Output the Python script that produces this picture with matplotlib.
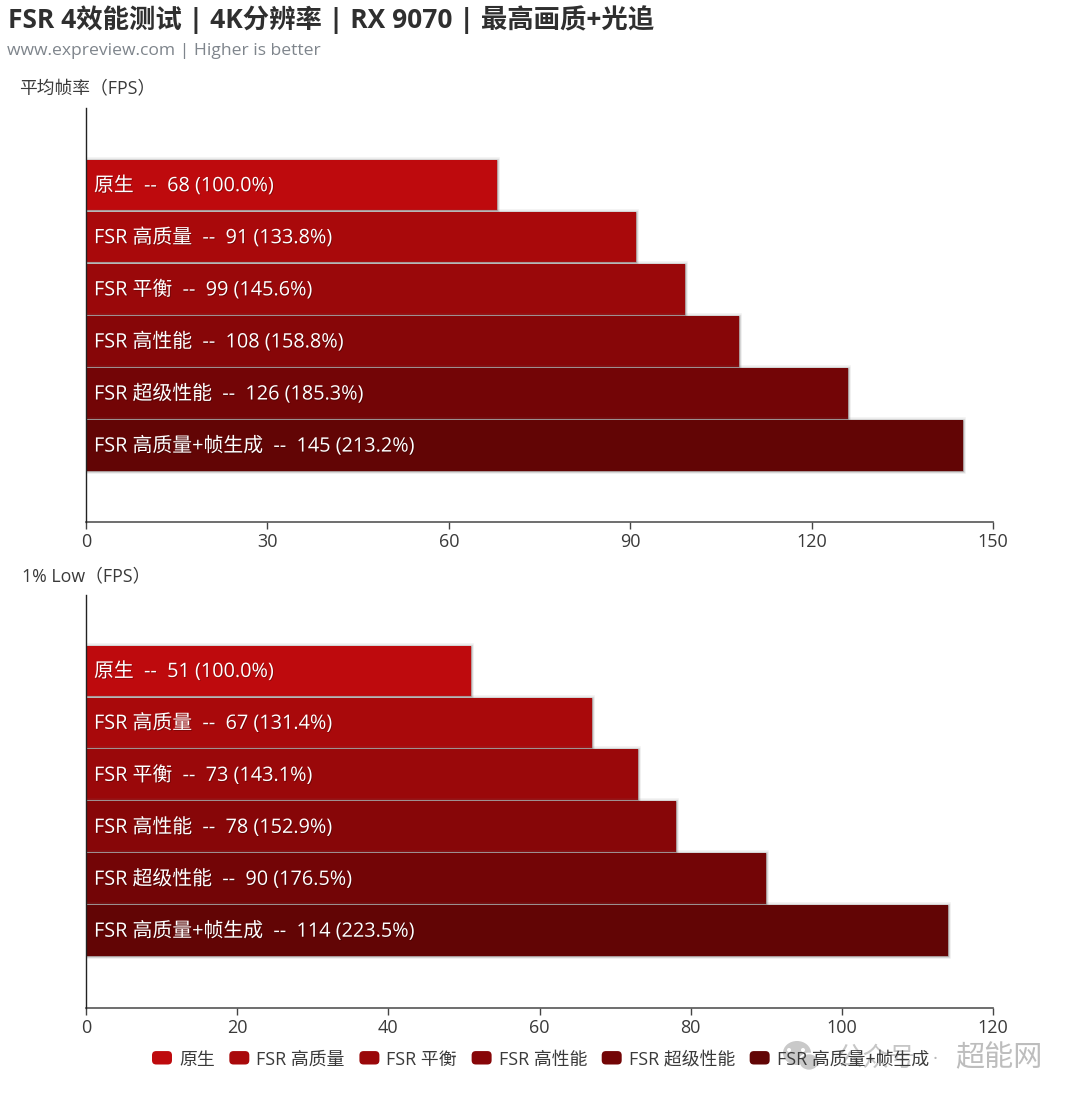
import matplotlib
matplotlib.use("Agg")
import matplotlib.pyplot as plt
import matplotlib.patheffects as pe
from matplotlib.patches import FancyBboxPatch, Patch, Ellipse
from matplotlib.legend_handler import HandlerPatch
from matplotlib.transforms import IdentityTransform

plt.rcParams['font.family'] = ['Open Sans', 'Noto Sans CJK SC', 'DejaVu Sans']

categories = ['原生', 'FSR 高质量', 'FSR 平衡', 'FSR 高性能', 'FSR 超级性能', 'FSR 高质量+帧生成']
avg_fps = [68, 91, 99, 108, 126, 145]
avg_pct = ['100.0%', '133.8%', '145.6%', '158.8%', '185.3%', '213.2%']
low_fps = [51, 67, 73, 78, 90, 114]
low_pct = ['100.0%', '131.4%', '143.1%', '152.9%', '176.5%', '223.5%']
colors = ['#BE0A0D', '#A9090B', '#9A080A', '#870608', '#730506', '#620505']
avg_ticks = [0, 30, 60, 90, 120, 150]
low_ticks = [0, 20, 40, 60, 80, 100, 120]

W, H = 1080, 1101
fig = plt.figure(figsize=(W / 100, H / 100), dpi=100, facecolor='white')


def panel(top, bottom, vals, pcts, ticks, name, name_x, ylo):
    ax = fig.add_axes([86 / W, 1 - bottom / H, (993 - 86) / W, (bottom - top) / H])
    y = list(range(len(categories)))
    bars = ax.barh(y, vals, height=0.972, color=colors, edgecolor='none', zorder=2)
    for b in bars:
        b.set_path_effects([pe.Stroke(linewidth=4.0, foreground='#777777', alpha=0.10),
                            pe.Stroke(linewidth=2.4, foreground='#777777', alpha=0.18),
                            pe.Stroke(linewidth=1.0, foreground='#888888', alpha=0.35),
                            pe.Normal()])
    for i, (c, v, p) in enumerate(zip(categories, vals, pcts)):
        ax.text(8 / 907 * ticks[-1], i + 0.02, f'{c}  --  {v} ({p})', color='white', fontsize=14.3,
                va='center', ha='left', zorder=3,
                path_effects=[pe.withSimplePatchShadow(offset=(0.6, -0.6), shadow_rgbFace='#000000', alpha=0.3)])
    ax.set_xlim(ticks[0], ticks[-1])
    ax.set_ylim(ylo + 7.95, ylo)
    ax.set_yticks([])
    ax.set_xticks(ticks)
    ax.tick_params(axis='x', length=5, width=1, color='#444444', labelsize=13.0, labelcolor='#3A3A3A', pad=3)
    for s in ('top', 'right'):
        ax.spines[s].set_visible(False)
    ax.spines['left'].set_color('#222222')
    ax.spines['left'].set_linewidth(1)
    ax.spines['left'].set_zorder(4)
    ax.spines['bottom'].set_color('#555555')
    ax.spines['bottom'].set_linewidth(1.2)
    fig.text(name_x / W, 1 - (top - 18.5) / H, name, fontsize=12.8, color='#3A3A3A', ha='left', va='center')
    return ax


panel(108, 522, avg_fps, avg_pct, avg_ticks, '平均帧率（FPS）', 19, -1.48)
panel(595, 1008, low_fps, low_pct, low_ticks, '1% Low（FPS）', 22, -1.46)

fig.text(8 / W, 1 - 20 / H, 'FSR 4效能测试 | 4K分辨率 | RX 9070 | 最高画质+光追', fontsize=19.0,
         fontweight='bold', color='#2F2F2F', ha='left', va='center')
fig.text(7 / W, 1 - 51 / H, 'www.expreview.com | Higher is better', fontsize=12.6, color='#7F858C',
         ha='left', va='center')

# watermark (under the legend)
wm = '#C9C9C9'
px = IdentityTransform()
fig.add_artist(Ellipse((797, H - 1053), 28, 24, facecolor=wm, edgecolor='none', transform=px, zorder=1))
fig.add_artist(Ellipse((809, H - 1062), 20, 17, facecolor=wm, edgecolor='white', linewidth=1.2, transform=px, zorder=1))
for ex in (789, 803):
    fig.add_artist(Ellipse((ex, H - 1050), 4, 4, facecolor='white', edgecolor='none', transform=px, zorder=1))
fig.text(837 / W, 1 - 1059 / H, '公众号', fontsize=19, color='#C6C6C6', ha='left', va='center', zorder=1)
fig.text(933 / W, 1 - 1059 / H, '·', fontsize=14, color='#B8B8B8', ha='left', va='center', zorder=1)
fig.text(955 / W, 1 - 1059 / H, '超能网', fontsize=21, color='#BDBDBD', ha='left', va='center', zorder=1)


class RoundHandler(HandlerPatch):
    def create_artists(self, legend, orig, xd, yd, w, h, fontsize, trans):
        p = FancyBboxPatch((xd + 3, yd + 3), w - 6, h - 6, boxstyle='round,pad=3,rounding_size=3',
                           facecolor=orig.get_facecolor(), edgecolor='none', transform=trans)
        return [p]


handles = [Patch(facecolor=c, label=n) for c, n in zip(colors, categories)]
leg = fig.legend(handles=handles, ncol=6, loc='center left', bbox_to_anchor=(152 / W, 1 - 1060 / H),
                 frameon=False, fontsize=12.85, labelcolor='#3A3A3A', handlelength=1.12, handleheight=0.78,
                 handletextpad=0.39, columnspacing=0.82, borderpad=0, borderaxespad=0,
                 handler_map={Patch: RoundHandler()})
leg.set_zorder(5)

fig.savefig('out.png', dpi=100, facecolor='white')
